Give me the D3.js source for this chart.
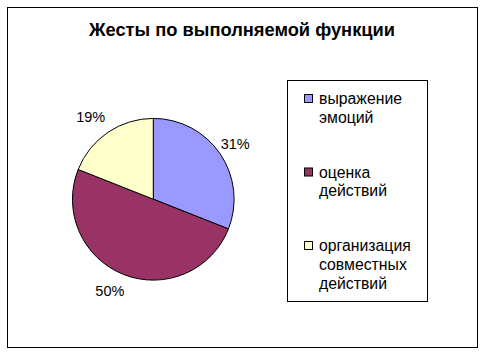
<!DOCTYPE html>
<html><head><meta charset="utf-8">
<script src="https://cdn.jsdelivr.net/npm/d3@7"></script>
<style>
html,body{margin:0;padding:0;background:#fff;}
svg{display:block;font-family:Arial,"Liberation Sans",sans-serif;}
</style></head>
<body>
<svg id="c" width="485" height="356"></svg>
<script>
const title = "Жесты по выполняемой функции";
const categories = ["выражение эмоций", "оценка действий", "организация совместных действий"];
const legendLines = [["выражение", "эмоций"], ["оценка", "действий"], ["организация", "совместных", "действий"]];
const values = [31, 50, 19];
const labels = ["31%", "50%", "19%"];
const colors = ["#9999FF", "#993366", "#FFFFCC"];

const svg = d3.select("#c");
svg.append("rect").attr("x", 7.5).attr("y", 7.5).attr("width", 470).attr("height", 340)
  .attr("fill", "#fff").attr("stroke", "#000").attr("stroke-width", 1);

svg.append("text").attr("x", 242).attr("y", 36).attr("text-anchor", "middle")
  .attr("font-size", 18.3).attr("font-weight", "bold").text(title);

const cx = 153.3, cy = 199.2, r = 80.8;
const pie = d3.pie().sort(null).value(d => d)(values);
const arc = d3.arc().innerRadius(0).outerRadius(r);
const g = svg.append("g").attr("transform", `translate(${cx},${cy})`);
g.selectAll("path").data(pie).join("path")
  .attr("d", arc).attr("fill", (d, i) => colors[i])
  .attr("stroke", "#000").attr("stroke-width", 1);

const labelArc = d3.arc().innerRadius(99).outerRadius(99);
g.selectAll("text.lbl").data(pie).join("text").attr("class", "lbl")
  .attr("transform", d => { const p = labelArc.centroid(d); return `translate(${p[0]},${p[1]})`; })
  .attr("text-anchor", "middle").attr("dy", "0.35em")
  .attr("dx", d => ((d.startAngle + d.endAngle) / 2 > Math.PI ? -7 : 0))
  .attr("font-size", 14.5).text((d, i) => labels[i]);

// legend
svg.append("rect").attr("x", 287.5).attr("y", 80.5).attr("width", 140).attr("height", 221)
  .attr("fill", "#fff").attr("stroke", "#000").attr("stroke-width", 1);
const ly = d3.scalePoint().domain(categories).range([104, 251]);
const lg = svg.append("g").selectAll("g").data(categories).join("g")
  .attr("transform", d => `translate(0,${ly(d)})`);
lg.append("rect").attr("x", 304.5).attr("y", -9.5).attr("width", 8).attr("height", 8)
  .attr("fill", (d, i) => colors[i]).attr("stroke", "#000").attr("stroke-width", 1);
lg.each(function(d, i) {
  const t = d3.select(this).append("text").attr("x", 319).attr("y", 0).attr("font-size", 15.8);
  legendLines[i].forEach((s, j) => {
    t.append("tspan").attr("x", 319).attr("y", j * 18.8).text(s);
  });
});
</script>
</body></html>
